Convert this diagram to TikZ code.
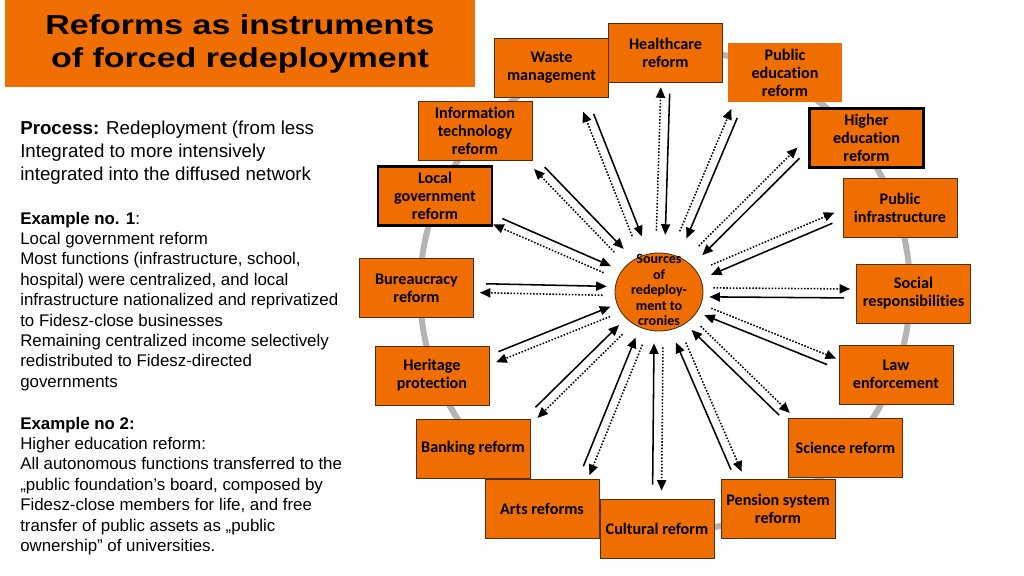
\documentclass[tikz,border=0pt]{standalone}
\usepackage{fontspec}
\setmainfont{Liberation Sans}
\newfontfamily\boxfont[Ligatures=NoCommon]{Carlito}
\usepackage{graphicx}
\usetikzlibrary{calc,positioning,arrows.meta,shapes.geometric}
\definecolor{reformorange}{RGB}{240,110,0}
\definecolor{ringgray}{RGB}{180,180,180}
\definecolor{boxedge}{RGB}{80,45,20}
\tikzset{
reform/.style={
  draw=boxedge, line width=0.6pt, fill=reformorange,
  minimum width=2.85cm, minimum height=1.475cm, inner sep=0pt,
  align=center, font=\boxfont\bfseries\fontsize{11.5}{12.8}\selectfont
},
framed/.style={draw=black, line width=1.6pt},
inflow/.style={line width=1.1pt, -{Triangle[length=7.5pt,width=6.5pt]}},
outflow/.style={inflow, dash pattern=on 1.1pt off 1.2pt},
}

\begin{document}
\begin{tikzpicture}[x=0.025cm, y=-0.025cm]
\useasboundingbox (0,0) rectangle (1024,576);

% title and text on the left
\node[fill=reformorange, minimum width=11.75cm, minimum height=2.175cm, inner sep=0pt,
      align=center, font=\bfseries\fontsize{19.5}{23.5}\selectfont] (title) at (240,43.5)
  {\scalebox{1.24}[1]{Reforms as instruments}\\\scalebox{1.24}[1]{of forced redeployment}};

\node[anchor=north west, align=left, inner sep=0pt, font=\fontsize{13.3}{16.3}\selectfont] (process) at (20,121)
  {\textbf{Process:} Redeployment (from less\\
   Integrated to more intensively\\
   integrated into the diffused network};
\node[anchor=north west, align=left, inner sep=0pt, font=\fontsize{12}{14.5}\selectfont] (example1) at (20,211.7)
  {\textbf{Example no. 1}:\\
   Local government reform\\
   Most functions (infrastructure, school,\\
   hospital) were centralized, and local\\
   infrastructure nationalized and reprivatized\\
   to Fidesz-close businesses\\
   Remaining centralized income selectively\\
   redistributed to Fidesz-directed\\
   governments};
\node[anchor=north west, align=left, inner sep=0pt, font=\fontsize{12}{14.5}\selectfont] (example2) at (20,416.7)
  {\textbf{Example no 2:}\\
   Higher education reform:\\
   All autonomous functions transferred to the\\
   „public foundation’s board, composed by\\
   Fidesz-close members for life, and free\\
   transfer of public assets as „public\\
   ownership” of universities.};

% ring behind the reforms
\draw[ringgray, line width=4.3pt] (665,290) ellipse [x radius=6.125cm, y radius=6.05cm];

% reforms
\node[reform] (waste) at (551.5,68) {Waste\\management};
\node[reform] (health) at (665.5,52.5) {Healthcare\\reform};
\node[reform, draw=none] (pubedu) at (785,72.5) {Public\\education\\reform};
\node[reform, framed] (higher) at (866.5,138) {Higher\\education\\reform};
\node[reform] (infotech) at (475,131) {Information\\technology\\reform};
\node[reform, framed] (localgov) at (435,196) {Local\\government\\reform};
\node[reform] (pubinfra) at (900,208) {Public\\infrastructure};
\node[reform] (bureau) at (416.5,288) {Bureaucracy\\reform};
\node[reform] (social) at (913.5,293.5) {Social\\responsibilities};
\node[reform] (heritage) at (432,375.5) {Heritage\\protection};
\node[reform] (law) at (896,374.5) {Law\\enforcement};
\node[reform] (banking) at (473,448.5) {Banking reform};
\node[reform] (science) at (845.5,447.5) {Science reform};
\node[reform] (arts) at (542,508.5) {Arts reforms};
\node[reform] (cultural) at (657,528.5) {Cultural reform};
\node[reform] (pension) at (778,508.5) {Pension system\\reform};

% sources in the middle
\node[ellipse, draw=boxedge, line width=0.6pt, fill=reformorange, inner sep=0pt,
      minimum width=2.2cm, minimum height=1.95cm] (src) at (659,292) {};
\node[align=center, inner sep=0pt, font=\boxfont\bfseries\fontsize{10}{11}\selectfont] (srclabel) at (659,290)
  {Sources\\of\\redeploy-\\ment to\\cronies};

% solid: reform -> sources, dotted: sources -> reform
\foreach \bx/\anc/\gout/\gin in {waste/-44/16/18, health/south/8/18, pubedu/-147/12/20,
    higher/-175/14/15, infotech/south east/10/14, localgov/-22/5/11, pubinfra/-174/10/11,
    bureau/east/9/8, social/west/9/6, heritage/15/8.5/7, law/170/7.5/7,
    banking/north east/8.5/10, science/north west/5/8, arts/36/8.5/11,
    cultural/north/11/12, pension/142/8.5/13}{
  \path (src) -- (\bx.\anc) coordinate[pos=0] (p) coordinate[pos=1] (q);
  \pgfmathsetmacro\so{(\gout+3)*0.709}
  \pgfmathsetmacro\do{max(\gout-3,1)*0.709}
  \pgfmathsetmacro\si{\gin*0.709}
  \pgfmathsetmacro\di{(\gin+4)*0.709}
  \draw[inflow, shorten <=\so pt, shorten >=\si pt] ($(q)!3.2pt!90:(p)$) -- ($(p)!3.2pt!-90:(q)$);
  \draw[outflow, shorten <=\di pt, shorten >=\do pt] ($(p)!3.2pt!90:(q)$) -- ($(q)!3.2pt!-90:(p)$);
}
\end{tikzpicture}
\end{document}
